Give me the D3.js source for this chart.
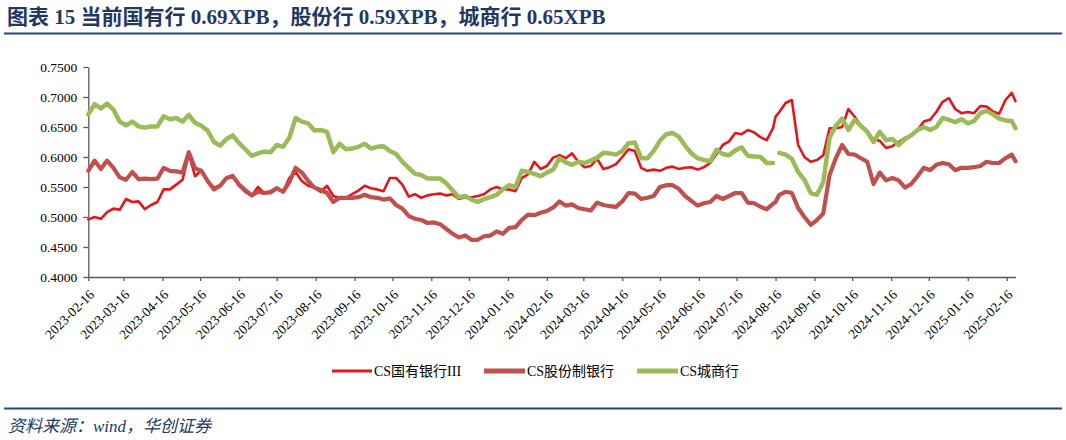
<!DOCTYPE html>
<html><head><meta charset="utf-8">
<script src="https://cdn.jsdelivr.net/npm/d3@7"></script>
<style>
html,body{margin:0;padding:0;background:#fff;}
svg{display:block;}
</style>
</head><body>
<svg id="chart" width="1066" height="440"></svg>
<script>
// ---------------- data ----------------
const titleText = "图表 15 当前国有行 0.69XPB，股份行 0.59XPB，城商行 0.65XPB";
const sourceText = "资料来源：wind，华创证券";
const seriesNames = ["CS国有银行III", "CS股份制银行", "CS城商行"];
const yTicks = [0.40, 0.45, 0.50, 0.55, 0.60, 0.65, 0.70, 0.75];
const xTickLabels = ["2023-02-16","2023-03-16","2023-04-16","2023-05-16","2023-06-16","2023-07-16","2023-08-16","2023-09-16","2023-10-16","2023-11-16","2023-12-16","2024-01-16","2024-02-16","2024-03-16","2024-04-16","2024-05-16","2024-06-16","2024-07-16","2024-08-16","2024-09-16","2024-10-16","2024-11-16","2024-12-16","2025-01-16","2025-02-16"];
const dates = ["2023-02-16","2023-02-21","2023-02-26","2023-03-03","2023-03-08","2023-03-13","2023-03-18","2023-03-23","2023-03-28","2023-04-02",
"2023-04-07","2023-04-12","2023-04-17","2023-04-22","2023-04-27","2023-05-02","2023-05-07","2023-05-12","2023-05-17","2023-05-22",
"2023-05-27","2023-06-01","2023-06-06","2023-06-11","2023-06-16","2023-06-21","2023-06-26","2023-07-01","2023-07-06","2023-07-11",
"2023-07-16","2023-07-21","2023-07-26","2023-07-31","2023-08-05","2023-08-10","2023-08-15","2023-08-20","2023-08-25","2023-08-30",
"2023-09-04","2023-09-09","2023-09-14","2023-09-19","2023-09-24","2023-09-29","2023-10-04","2023-10-09","2023-10-14","2023-10-19",
"2023-10-24","2023-10-29","2023-11-03","2023-11-08","2023-11-13","2023-11-18","2023-11-23","2023-11-28","2023-12-03","2023-12-08",
"2023-12-13","2023-12-18","2023-12-23","2023-12-28","2024-01-02","2024-01-07","2024-01-12","2024-01-17","2024-01-22","2024-01-27",
"2024-02-01","2024-02-06","2024-02-11","2024-02-16","2024-02-21","2024-02-26","2024-03-02","2024-03-07","2024-03-12","2024-03-17",
"2024-03-22","2024-03-27","2024-04-01","2024-04-06","2024-04-11","2024-04-16","2024-04-21","2024-04-26","2024-05-01","2024-05-06",
"2024-05-11","2024-05-16","2024-05-21","2024-05-26","2024-05-31","2024-06-05","2024-06-10","2024-06-15","2024-06-20","2024-06-25",
"2024-06-30","2024-07-05","2024-07-10","2024-07-15","2024-07-20","2024-07-25","2024-07-30","2024-08-04","2024-08-09","2024-08-14",
"2024-08-16",
"2024-08-19","2024-08-24","2024-08-29","2024-09-03","2024-09-08","2024-09-13","2024-09-18","2024-09-23","2024-09-28","2024-10-03",
"2024-10-08","2024-10-13","2024-10-18","2024-10-23","2024-10-28","2024-11-02","2024-11-07","2024-11-12","2024-11-17","2024-11-22",
"2024-11-27","2024-12-02","2024-12-07","2024-12-12","2024-12-17","2024-12-22","2024-12-27","2025-01-01","2025-01-06","2025-01-11",
"2025-01-16","2025-01-21","2025-01-26","2025-01-31","2025-02-05","2025-02-10","2025-02-15","2025-02-20","2025-02-23"];

const soeBanks = [0.496,0.500,0.497,0.508,0.514,0.512,0.530,0.525,0.526,0.513,
0.520,0.525,0.546,0.546,0.554,0.562,0.605,0.568,0.578,0.560,
0.549,0.553,0.565,0.570,0.552,0.542,0.535,0.550,0.540,0.543,
0.549,0.542,0.565,0.575,0.560,0.552,0.549,0.542,0.552,0.535,
0.532,0.532,0.538,0.544,0.552,0.548,0.546,0.543,0.565,0.565,
0.554,0.534,0.538,0.532,0.536,0.538,0.539,0.536,0.538,0.530,
0.533,0.533,0.535,0.538,0.546,0.550,0.546,0.546,0.543,0.565,
0.571,0.592,0.580,0.585,0.599,0.603,0.598,0.606,0.592,0.583,
0.585,0.597,0.580,0.583,0.588,0.600,0.613,0.610,0.582,0.577,
0.579,0.577,0.582,0.584,0.580,0.582,0.583,0.579,0.583,0.590,
0.605,0.620,0.626,0.640,0.638,0.645,0.641,0.633,0.628,0.648,
0.667,
0.675,0.690,0.695,0.620,0.600,0.592,0.595,0.603,0.648,0.648,
0.650,0.680,0.667,0.652,0.643,0.629,0.627,0.615,0.618,0.625,
0.632,0.636,0.645,0.659,0.662,0.675,0.692,0.698,0.680,0.673,
0.675,0.673,0.685,0.684,0.676,0.672,0.695,0.707,0.693];

const jointStockBanks = [0.577,0.594,0.580,0.594,0.582,0.566,0.562,0.575,0.563,0.564,
0.563,0.564,0.582,0.577,0.576,0.574,0.608,0.581,0.577,0.560,
0.546,0.552,0.565,0.568,0.554,0.545,0.536,0.542,0.540,0.541,
0.548,0.542,0.558,0.582,0.574,0.560,0.549,0.545,0.540,0.525,
0.532,0.532,0.532,0.533,0.537,0.533,0.532,0.529,0.531,0.520,
0.514,0.502,0.497,0.495,0.490,0.491,0.488,0.480,0.472,0.466,
0.469,0.462,0.462,0.468,0.469,0.476,0.472,0.482,0.483,0.495,
0.504,0.503,0.507,0.510,0.516,0.526,0.519,0.521,0.515,0.513,
0.511,0.524,0.520,0.518,0.517,0.526,0.540,0.539,0.530,0.532,
0.535,0.550,0.553,0.553,0.547,0.535,0.527,0.519,0.523,0.525,
0.535,0.530,0.535,0.540,0.540,0.524,0.523,0.517,0.513,0.522,
0.525,
0.537,0.542,0.540,0.515,0.500,0.487,0.495,0.506,0.570,0.598,
0.620,0.605,0.604,0.598,0.592,0.555,0.574,0.561,0.565,0.561,
0.549,0.555,0.568,0.582,0.578,0.587,0.590,0.588,0.578,0.582,
0.582,0.583,0.585,0.592,0.590,0.590,0.598,0.604,0.593];

const cityBanks = [0.671,0.688,0.681,0.689,0.679,0.659,0.653,0.659,0.651,0.649,
0.651,0.651,0.668,0.663,0.665,0.659,0.670,0.657,0.652,0.644,
0.625,0.619,0.630,0.636,0.623,0.613,0.602,0.606,0.609,0.608,
0.620,0.617,0.632,0.665,0.659,0.656,0.644,0.645,0.642,0.608,
0.622,0.613,0.614,0.617,0.622,0.614,0.617,0.618,0.610,0.605,
0.592,0.582,0.572,0.570,0.564,0.564,0.564,0.556,0.544,0.533,
0.535,0.529,0.525,0.530,0.533,0.537,0.546,0.553,0.550,0.577,
0.575,0.572,0.568,0.574,0.579,0.598,0.591,0.587,0.592,0.590,
0.594,0.599,0.607,0.606,0.604,0.610,0.623,0.624,0.598,0.598,
0.610,0.627,0.638,0.640,0.634,0.619,0.606,0.598,0.595,0.593,
0.612,0.605,0.603,0.611,0.616,0.602,0.601,0.600,0.590,0.590,
null,
0.607,0.604,0.597,0.575,0.562,0.540,0.537,0.558,0.632,0.652,
0.664,0.645,0.662,0.652,0.642,0.625,0.642,0.628,0.630,0.620,
0.630,0.636,0.645,0.650,0.645,0.650,0.665,0.662,0.658,0.663,
0.656,0.660,0.673,0.677,0.671,0.664,0.661,0.660,0.648];

const colors = ["#E8141C", "#C0504D", "#9BBB59"];

// ---------------- drawing ----------------
const svg = d3.select("#chart");
const parse = d3.timeParse("%Y-%m-%d");
const fmt = d3.timeFormat("%Y-%m-%d");
const navy = "#1F3864";

// title
svg.append("text").attr("x", 7).attr("y", 24)
  .attr("font-family", "'Liberation Serif','Noto Sans CJK SC',serif")
  .attr("font-weight", "bold").attr("font-size", 21).attr("fill", navy)
  .text(titleText);
svg.append("line").attr("x1", 4).attr("x2", 1062).attr("y1", 33.5).attr("y2", 33.5)
  .attr("stroke", "#24468C").attr("stroke-width", 2);

// footer
svg.append("line").attr("x1", 4).attr("x2", 1062).attr("y1", 408.5).attr("y2", 408.5)
  .attr("stroke", "#24468C").attr("stroke-width", 2);
svg.append("text").attr("x", 8).attr("y", 432)
  .attr("font-family", "'Liberation Serif','Noto Sans CJK SC',serif")
  .attr("font-style", "italic").attr("font-size", 17).attr("fill", navy)
  .text(sourceText);

// scales
const x = d3.scaleTime()
  .domain([parse("2023-02-16"), parse("2025-02-23")])
  .range([88.3, 1015.5]);
const y = d3.scaleLinear().domain([0.40, 0.75]).range([277, 67]);

const axisColor = "#595959";
const labelFont = "'Liberation Serif','Times New Roman',serif";

// y axis
const yAxis = svg.append("g").attr("transform", "translate(88.3,0)")
  .call(d3.axisLeft(y).tickValues(yTicks).tickFormat(d3.format(".4f")).tickSize(5).tickSizeOuter(0).tickPadding(6));
yAxis.select(".domain").attr("stroke", axisColor).attr("stroke-width", 1.3);
yAxis.selectAll(".tick line").attr("stroke", axisColor).attr("stroke-width", 1.3);
yAxis.selectAll(".tick text").attr("font-family", labelFont).attr("font-size", 13.5).attr("fill", "#000");

// x axis
const xTickDates = xTickLabels.map(parse);
const xAxis = svg.append("g").attr("transform", "translate(0,277)")
  .call(d3.axisBottom(x).tickValues(xTickDates).tickFormat(fmt).tickSize(4).tickSizeOuter(0));
xAxis.select(".domain").attr("stroke", axisColor).attr("stroke-width", 1.3);
xAxis.selectAll(".tick line").attr("stroke", axisColor).attr("stroke-width", 1.3);
xAxis.selectAll(".tick text")
  .attr("font-family", labelFont).attr("font-size", 13.5).attr("fill", "#000")
  .attr("text-anchor", "end")
  .attr("x", 0).attr("y", 0).attr("dy", "0.35em")
  .attr("transform", "translate(3,15) rotate(-45)");

// lines
const allSeries = [soeBanks, jointStockBanks, cityBanks];
const widths = [2.6, 4.2, 4.5];
const line = d3.line()
  .defined(d => d.v !== null)
  .x(d => x(d.date)).y(d => y(d.v))
  .curve(d3.curveLinear);
const plot = svg.append("g");
allSeries.forEach((vals, i) => {
  const pts = vals.map((v, j) => ({date: parse(dates[j]), v: v}));
  plot.append("path").datum(pts)
    .attr("d", line)
    .attr("fill", "none")
    .attr("stroke", colors[i])
    .attr("stroke-width", widths[i])
    .attr("stroke-linejoin", "round")
    .attr("stroke-linecap", "round");
});

// legend
const legendItems = [
  {x1: 332, x2: 372, tx: 374, w: 3},
  {x1: 484, x2: 525, tx: 527, w: 5},
  {x1: 637, x2: 678, tx: 680, w: 5}
];
const legend = svg.append("g");
legendItems.forEach((it, i) => {
  legend.append("line").attr("x1", it.x1).attr("x2", it.x2)
    .attr("y1", 371).attr("y2", 371)
    .attr("stroke", colors[i]).attr("stroke-width", it.w);
  legend.append("text").attr("x", it.tx).attr("y", 371).attr("dy", "0.35em")
    .attr("font-family", "'Liberation Serif','Noto Sans CJK SC',serif")
    .attr("font-size", 14).attr("fill", "#000")
    .text(seriesNames[i]);
});
</script>
</body></html>
